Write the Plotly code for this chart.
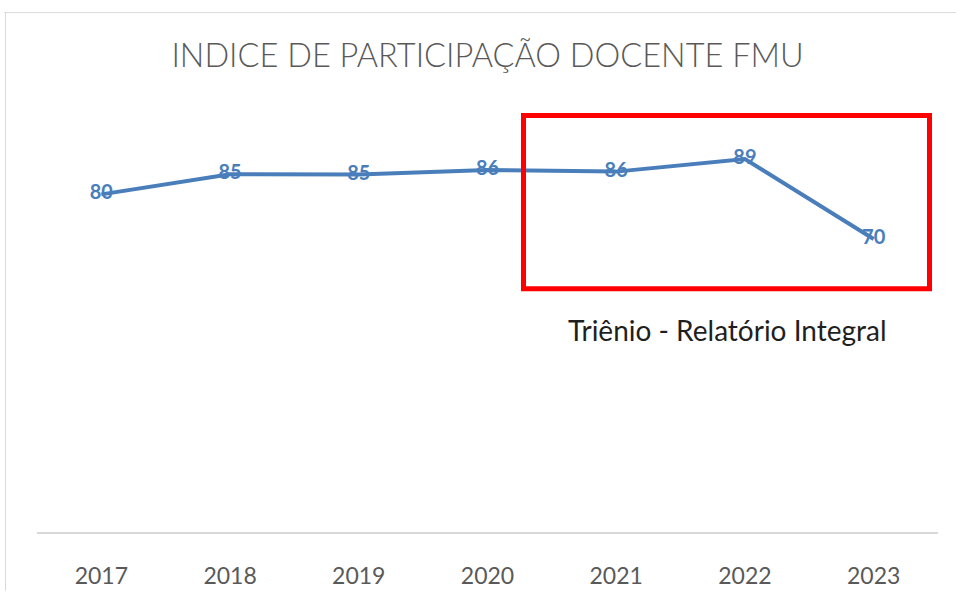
import plotly.graph_objects as go

years = ["2017", "2018", "2019", "2020", "2021", "2022", "2023"]
values = [80.2, 85.0, 84.9, 86.0, 85.6, 88.6, 69.6]

title_text = "INDICE DE PARTICIPAÇÃO DOCENTE FMU"
note_text = "Triênio - Relatório Integral"

W, H = 956, 601
L, R, T, B = 37, 18, 111, 60
pw = W - L - R
ph = H - T - B


def px(x):
    return (x - L) / pw


def py(y):
    return (H - B - y) / ph


line_color = "#4A7EBB"
font_family = "Lato, 'Open Sans', sans-serif"

fig = go.Figure()
fig.add_trace(go.Scatter(
    x=list(range(len(years))),
    y=values,
    mode="lines+text",
    line=dict(color=line_color, width=4),
    text=[f"{v:.0f}" for v in values],
    textposition="middle center",
    textfont=dict(family=font_family, size=20, color=line_color, weight="bold"),
    hoverinfo="skip",
    showlegend=False,
    cliponaxis=False,
))

fig.update_layout(
    width=W, height=H,
    margin=dict(l=L, r=R, t=T, b=B),
    paper_bgcolor="white",
    plot_bgcolor="white",
    title=dict(
        text=title_text,
        x=0.5, xref="paper", xanchor="center",
        y=1 - 56 / H, yref="container", yanchor="middle",
        font=dict(family=font_family, size=32.5, color="#595959", weight=300),
    ),
    xaxis=dict(
        range=[-0.5, len(years) - 0.5],
        tickmode="array",
        tickvals=list(range(len(years))),
        ticktext=years,
        showgrid=False, zeroline=False,
        showline=True, linecolor="#D9D9D9", linewidth=2,
        ticks="", ticklabelstandoff=22,
        tickfont=dict(family=font_family, size=23, color="#595959"),
        fixedrange=True,
    ),
    yaxis=dict(
        range=[0, 100],
        visible=False,
        fixedrange=True,
    ),
    shapes=[
        dict(type="line", xref="paper", yref="paper",
             x0=px(4), x1=px(W), y0=py(10.5), y1=py(10.5),
             line=dict(color="#D9D9D9", width=1), layer="below"),
        dict(type="line", xref="paper", yref="paper",
             x0=px(5.5), x1=px(5.5), y0=py(10), y1=py(H),
             line=dict(color="#D9D9D9", width=1), layer="below"),
        dict(type="rect", xref="paper", yref="paper",
             x0=px(523.5), x1=px(929.5), y0=py(292.5), y1=py(115.5),
             line=dict(color="#FF0000", width=5)),
    ],
    annotations=[
        dict(text=note_text, xref="paper", yref="paper",
             x=px(727), y=py(335), xanchor="center", yanchor="middle",
             showarrow=False,
             font=dict(family=font_family, size=28, color="#1F1F1F")),
    ],
)

post = (
    "document.documentElement.style.overflow='hidden';"
    "document.body.style.margin='0';"
    "document.body.style.overflow='hidden';"
)

fig.write_html(
    "out.html",
    config={"displayModeBar": False, "staticPlot": True},
    post_script=post,
)
